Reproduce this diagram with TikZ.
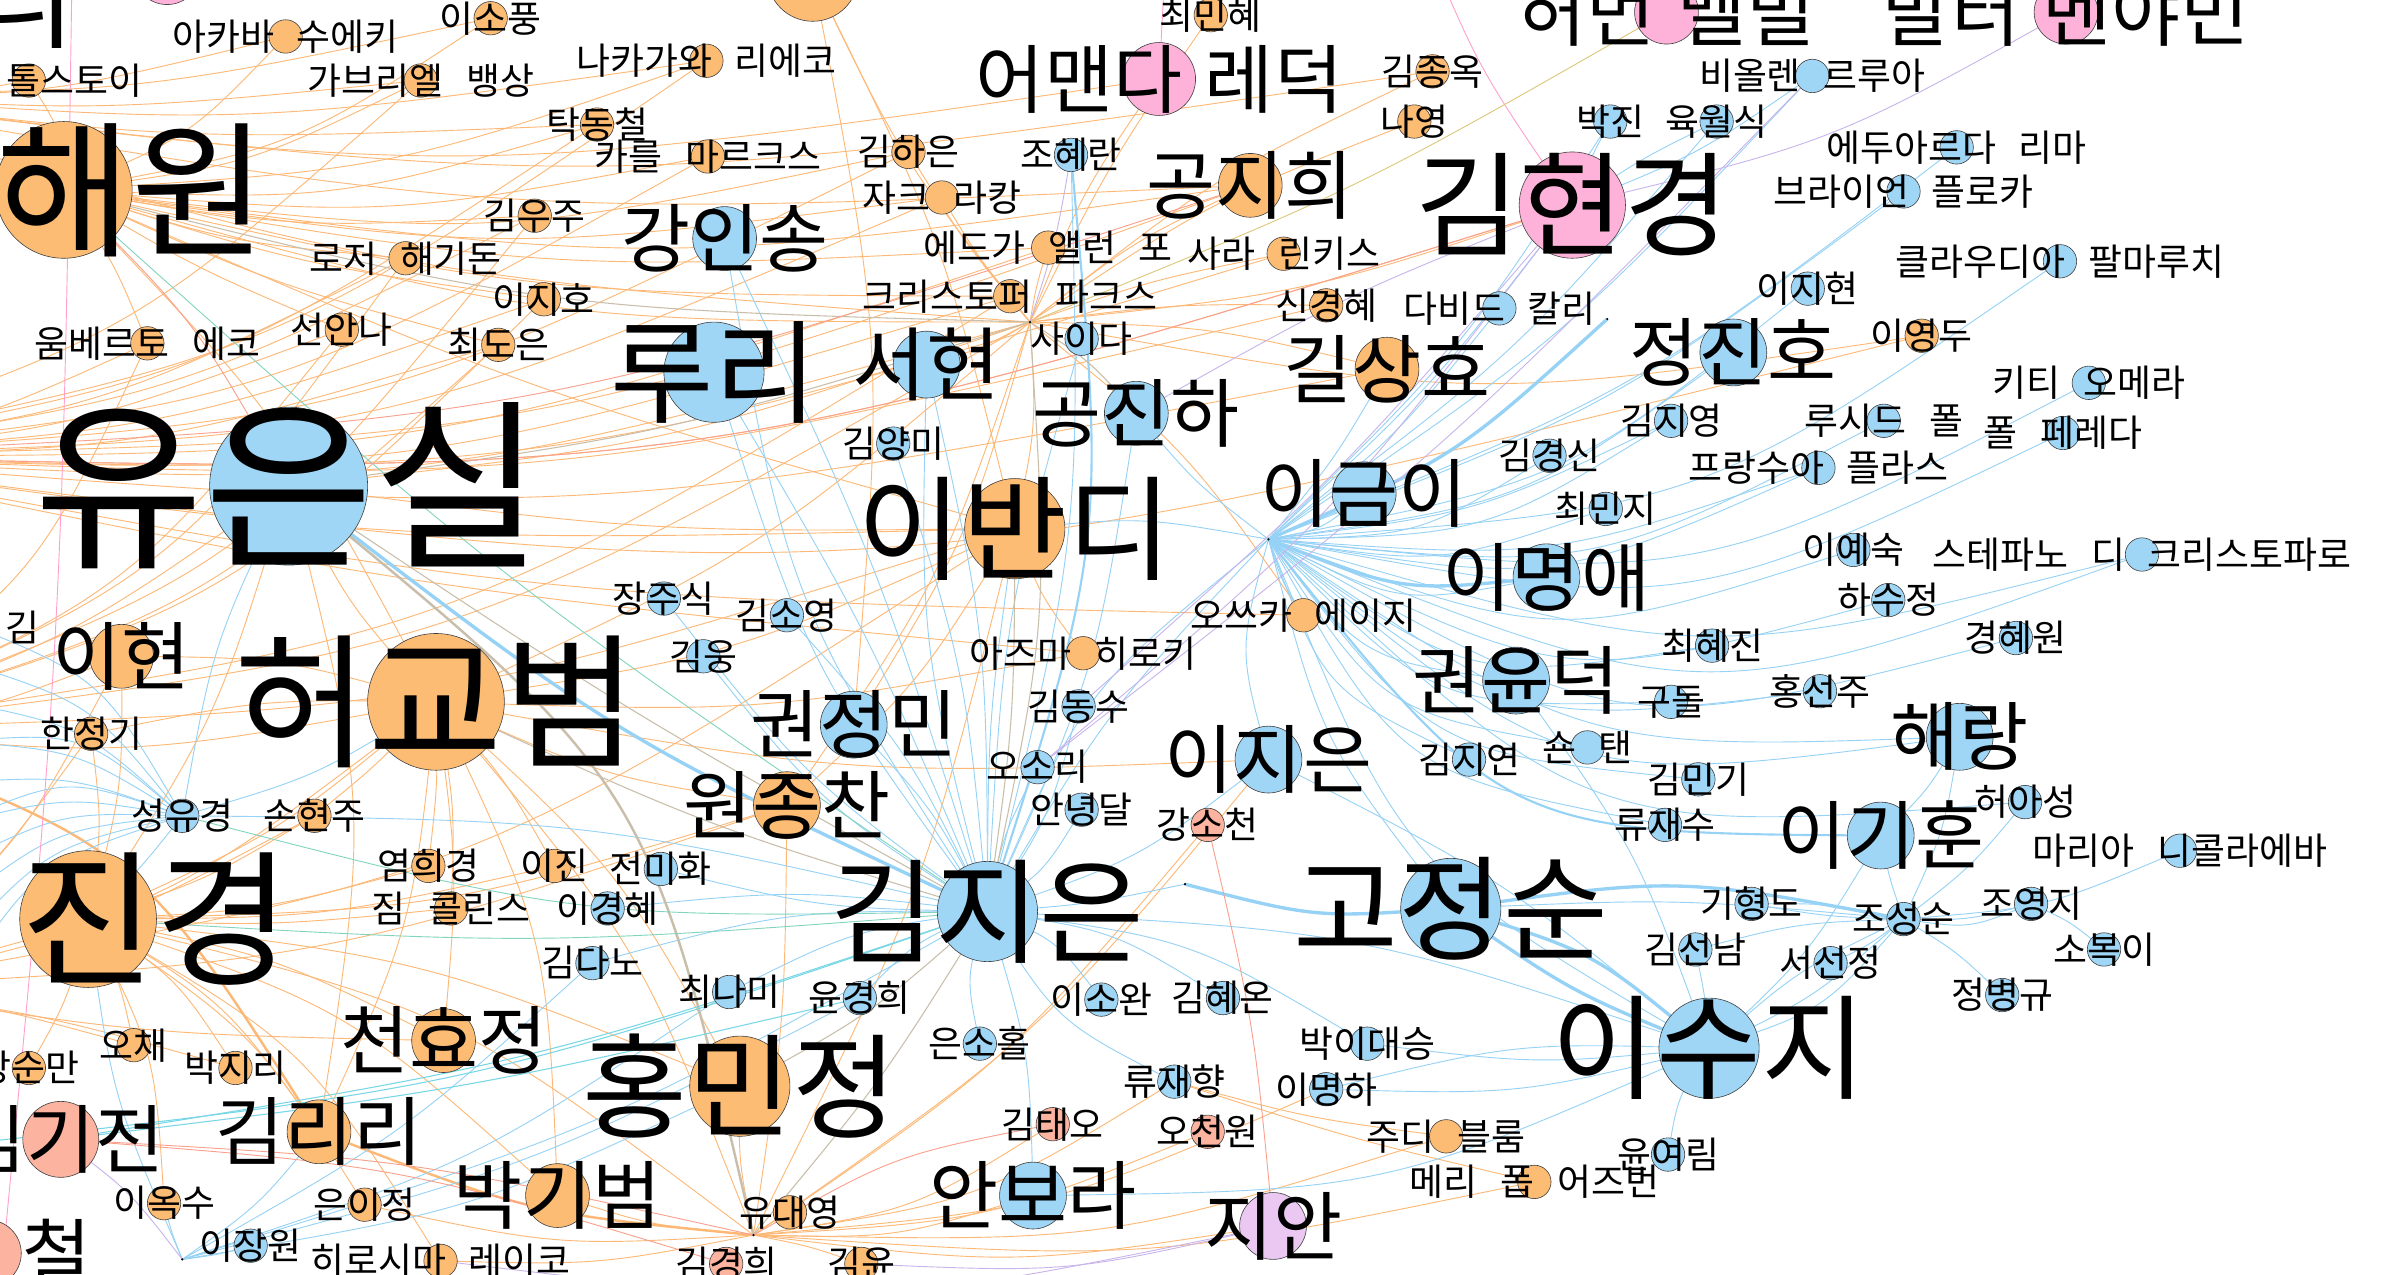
\documentclass[tikz,border=0pt]{standalone}
\usepackage{fontspec}
\setmainfont{Noto Sans CJK KR}
\usetikzlibrary{calc}
\pgfdeclarelayer{bg}\pgfdeclarelayer{edges}\pgfdeclarelayer{fg}
\pgfsetlayers{bg,edges,main,fg}
\definecolor{nOr}{RGB}{253,188,116}
\definecolor{nBl}{RGB}{160,214,245}
\definecolor{nPk}{RGB}{255,178,217}
\definecolor{nSa}{RGB}{252,180,160}
\definecolor{nLv}{RGB}{235,200,242}
\definecolor{eOr}{RGB}{253,184,118}
\definecolor{eBl}{RGB}{150,210,245}
\definecolor{eTa}{RGB}{200,190,170}
\definecolor{eTe}{RGB}{130,212,190}
\definecolor{eCy}{RGB}{120,215,230}
\definecolor{ePk}{RGB}{255,160,205}
\definecolor{eLv}{RGB}{200,180,235}
\definecolor{eSa}{RGB}{250,160,140}
\definecolor{eOl}{RGB}{220,200,120}
\tikzset{
  gcirc/.style={circle,draw=black!75,line width=0.4pt,inner sep=0pt},
  glab/.style={inner sep=0pt,text=black},
  hubdot/.style={circle,fill=black,inner sep=0pt,minimum size=1.6pt},
  eo/.style={draw=eOr,line width=0.6pt},
  eot/.style={draw=eOr,line width=1.6pt},
  eb/.style={draw=eBl,line width=0.6pt},
  ebm/.style={draw=eBl,line width=1.4pt},
  ebt/.style={draw=eBl,line width=2.2pt},
  eta/.style={draw=eTa,line width=0.7pt},
  etat/.style={draw=eTa,line width=1.6pt},
  ete/.style={draw=eTe,line width=0.6pt},
  ecy/.style={draw=eCy,line width=0.7pt},
  epk/.style={draw=ePk,line width=0.6pt},
  elv/.style={draw=eLv,line width=0.6pt},
  esa/.style={draw=eSa,line width=0.6pt},
  eol/.style={draw=eOl,line width=0.6pt}
}
\newcommand{\mkn}[7]{%
  \node[gcirc,fill=#5,minimum size={2*#4pt}] (#1) at (#2,#3) {};
  \begin{pgfonlayer}{fg}
  \node[glab,font=\fontsize{#6pt}{#6pt}\selectfont] (#1-t) at (#2,#3) {\spaceskip=15pt\relax #7};
  \end{pgfonlayer}}
% curved connector: style, from, to, bend (positive = bulge to the visual right)
\newcommand{\cedge}[4]{%
  \draw[#1] let \p1=(#2.center), \p2=(#3.center) in
    (\p1) .. controls ({0.5*\x1+0.5*\x2-(#4)*0.0068*(\y2-\y1)},{0.5*\y1+0.5*\y2+(#4)*0.0068*(\x2-\x1)}) .. (\p2);}
\begin{document}
\begin{tikzpicture}[x=1pt,y=-1pt]
\useasboundingbox (0,0) rectangle (1568,839);
\begin{pgfonlayer}{bg}
\fill[white] (0,0) rectangle (1568,839);
\end{pgfonlayer}
% partial nodes at the top edge
\mkn{pinkTop}{110}{-19}{22}{nPk}{45}{}
\mkn{orTop}{535}{-16}{30}{nOr}{65}{}
\begin{pgfonlayer}{fg}
\node[glab,font=\fontsize{75pt}{75pt}\selectfont] (topri) at (16,-2) {리};
\node[glab,font=\fontsize{24.3pt}{24.3pt}\selectfont] (kimpart) at (15,413) {김};
\end{pgfonlayer}
% nodes
\mkn{akaba}{188}{24}{11}{nOr}{24.3}{아카바 수에키}
\mkn{isop}{323}{12}{11}{nOr}{24.3}{이소풍}
\mkn{choimh}{797}{10}{11}{nOr}{24.3}{최민혜}
\mkn{amanda}{763}{52}{24}{nPk}{49.4}{어맨다 레덕}
\mkn{kimjo}{943}{47}{11}{nOr}{24.3}{김종옥}
\mkn{nayoung}{931}{80}{11}{nOr}{24.3}{나영}
\mkn{melville}{1097}{8}{21}{nPk}{49.4}{허먼 멜빌}
\mkn{benjamin}{1360}{8}{21}{nPk}{49.4}{발터 벤야민}
\mkn{tolstoy}{19}{53}{11}{nOr}{24.3}{레프 톨스토이}
\mkn{vincent}{277}{53}{11}{nOr}{24.3}{가브리엘 뱅상}
\mkn{nakagawa}{465}{40}{11}{nOr}{24.3}{나카가와 리에코}
\mkn{takdc}{393}{82}{11}{nOr}{24.3}{탁동철}
\mkn{marx}{466}{103}{11}{nOr}{24.3}{카를 마르크스}
\mkn{kimhe}{598}{100}{11}{nOr}{24.3}{김하은}
\mkn{johr}{705}{102}{11}{nBl}{24.3}{조혜란}
\mkn{lacan}{620}{130}{11}{nOr}{24.3}{자크 라캉}
\mkn{gongjh}{823}{122}{21}{nOr}{49.4}{공지희}
\mkn{kimhk}{1035}{135}{35}{nPk}{75}{김현경}
\mkn{kangis}{477}{157}{21}{nBl}{49.4}{강인송}
\mkn{violaine}{1193}{50}{11}{nBl}{24.3}{비올렌 르루아}
\mkn{parkjin}{1060}{80}{11}{nBl}{24.3}{박진}
\mkn{yukws}{1130}{80}{11}{nBl}{24.3}{육월식}
\mkn{eduarda}{1288}{97}{11}{nBl}{24.3}{에두아르다 리마}
\mkn{floca}{1253}{126}{11}{nBl}{24.3}{브라이언 플로카}
\mkn{kimwj}{352}{142}{11}{nOr}{24.3}{김우주}
\mkn{hagidon}{267}{170}{11}{nOr}{24.3}{로저 해기돈}
\mkn{poe}{690}{163}{11}{nOr}{24.3}{에드가 앨런 포}
\mkn{rinkis}{845}{167}{11}{nOr}{24.3}{사라 린키스}
\mkn{claudia}{1356}{172}{11}{nBl}{24.3}{클라우디아 팔마루치}
\mkn{leejh}{358}{197}{11}{nOr}{24.3}{이지호}
\mkn{parks}{665}{195}{11}{nOr}{24.3}{크리스토퍼 파크스}
\mkn{leejhy}{1190}{190}{11}{nBl}{24.3}{이지현}
\mkn{leeyd}{1265}{221}{11}{nOr}{24.3}{이영두}
\mkn{shinkh}{873}{201}{11}{nOr}{24.3}{신경혜}
\mkn{cali}{987}{203}{11}{nBl}{24.3}{다비드 칼리}
\mkn{eco}{97}{226}{11}{nOr}{24.3}{움베르토 에코}
\mkn{sunan}{225}{217}{11}{nOr}{24.3}{선안나}
\mkn{choide}{328}{227}{11}{nOr}{24.3}{최도은}
\mkn{ruri}{470}{245}{33}{nBl}{74}{루리}
\mkn{seohyun}{610}{240}{22}{nBl}{53}{서현}
\mkn{saida}{712}{223}{11}{nBl}{24.3}{사이다}
\mkn{gongjinha}{748}{272}{21}{nBl}{49.4}{공진하}
\mkn{gilsh}{913}{243}{21}{nOr}{49.4}{길상효}
\mkn{jungjh}{1141}{232}{22}{nBl}{49.4}{정진호}
\mkn{omera}{1375}{252}{11}{nBl}{24.3}{키티 오메라}
\mkn{kimjy}{1100}{277}{11}{nBl}{24.3}{김지영}
\mkn{lucid}{1240}{277}{11}{nBl}{24.3}{루시드 폴}
\mkn{pereda}{1358}{285}{11}{nBl}{24.3}{폴 페레다}
\mkn{kimks}{1020}{300}{11}{nBl}{24.3}{김경신}
\mkn{plasse}{1197}{308}{11}{nBl}{24.3}{프랑수아 플라스}
\mkn{kimym}{588}{292}{11}{nBl}{24.3}{김양미}
\mkn{yoones}{190}{320}{52}{nBl}{121}{유은실}
\mkn{leegi}{898}{325}{21}{nBl}{49.4}{이금이}
\mkn{choimj}{1057}{335}{11}{nBl}{24.3}{최민지}
\mkn{leebd}{668}{348}{33}{nOr}{75}{이반디}
\mkn{leeys}{1220}{362}{11}{nBl}{24.3}{이예숙}
\mkn{stefano}{1410}{365}{11}{nBl}{24.3}{스테파노 디 크리스토파로}
\mkn{leema}{1018}{380}{22}{nBl}{49.4}{이명애}
\mkn{jangjs}{437}{394}{11}{nBl}{24.3}{장주식}
\mkn{kimsy}{518}{405}{11}{nBl}{24.3}{김소영}
\mkn{hasj}{1243}{395}{11}{nBl}{24.3}{하수정}
\mkn{otsuka}{858}{405}{11}{nOr}{24.3}{오쓰카 에이지}
\mkn{leehyun}{80}{432}{21}{nOr}{49.4}{이현}
\mkn{heokb}{287}{462}{45}{nOr}{96}{허교범}
\mkn{kimwoong}{463}{432}{11}{nBl}{24.3}{김웅}
\mkn{azuma}{713}{430}{11}{nOr}{24.3}{아즈마 히로키}
\mkn{kyunghw}{1327}{420}{11}{nBl}{24.3}{경혜원}
\mkn{choihj}{1127}{425}{11}{nBl}{24.3}{최혜진}
\mkn{kwonyd}{998}{448}{22}{nBl}{49.4}{권윤덕}
\mkn{gudol}{1100}{462}{11}{nBl}{24.3}{구돌}
\mkn{hongsj}{1198}{455}{11}{nBl}{24.3}{홍선주}
\mkn{kwonjm}{562}{477}{22}{nBl}{49.4}{권정민}
\mkn{kimds}{710}{465}{11}{nBl}{24.3}{김동수}
\mkn{hanjk}{60}{483}{11}{nOr}{24.3}{한정기}
\mkn{haerang}{1290}{485}{22}{nBl}{49.4}{해랑}
\mkn{leeje}{835}{500}{22}{nBl}{49.4}{이지은}
\mkn{osori}{683}{505}{11}{nBl}{24.3}{오소리}
\mkn{tan}{1045}{492}{11}{nBl}{24.3}{숀 탠}
\mkn{kimjyn}{967}{500}{11}{nBl}{24.3}{김지연}
\mkn{kimmk}{1118}{513}{11}{nBl}{24.3}{김민기}
\mkn{heoas}{1333}{528}{11}{nBl}{24.3}{허아성}
\mkn{wonjc}{518}{530}{22}{nOr}{49.4}{원종찬}
\mkn{sungyk}{120}{537}{11}{nBl}{24.3}{성유경}
\mkn{sonhj}{207}{537}{11}{nOr}{24.3}{손현주}
\mkn{annd}{712}{533}{11}{nBl}{24.3}{안녕달}
\mkn{kangsc}{795}{543}{11}{nSa}{24.3}{강소천}
\mkn{ryujs}{1096}{543}{11}{nBl}{24.3}{류재수}
\mkn{leegh}{1238}{550}{22}{nBl}{49.4}{이기훈}
\mkn{nikolajeva}{1435}{560}{11}{nBl}{24.3}{마리아 니콜라에바}
\mkn{kimjie}{650}{600}{33}{nBl}{75}{김지은}
\mkn{kojs}{955}{598}{33}{nBl}{75}{고정순}
\mkn{jingk}{58}{605}{45}{nOr}{97}{\phantom{가}진경}
\mkn{hae}{42}{125}{45}{nOr}{97}{\phantom{가}해원}
\mkn{yumhk}{282}{570}{11}{nOr}{24.3}{염희경}
\mkn{leejin}{365}{570}{11}{nOr}{24.3}{이진}
\mkn{jeonmh}{435}{572}{11}{nBl}{24.3}{전미화}
\mkn{collins}{297}{598}{11}{nOr}{24.3}{짐 콜린스}
\mkn{leekh}{400}{598}{11}{nBl}{24.3}{이경혜}
\mkn{kihd}{1153}{595}{11}{nBl}{24.3}{기형도}
\mkn{josungsoon}{1253}{605}{11}{nBl}{24.3}{조성순}
\mkn{joyj}{1337}{595}{11}{nBl}{24.3}{조영지}
\mkn{kimsn}{1116}{625}{11}{nBl}{24.3}{김선남}
\mkn{seosj}{1205}{634}{11}{nBl}{24.3}{서선정}
\mkn{sobok}{1385}{625}{11}{nBl}{24.3}{소복이}
\mkn{kimdn}{390}{634}{11}{nBl}{24.3}{김다노}
\mkn{choinm}{480}{653}{11}{nBl}{24.3}{최나미}
\mkn{yoonkh}{566}{657}{11}{nBl}{24.3}{윤경희}
\mkn{leeso}{725}{658}{11}{nBl}{24.3}{이소완}
\mkn{kimho}{805}{657}{11}{nBl}{24.3}{김혜온}
\mkn{jungbk}{1318}{655}{11}{nBl}{24.3}{정병규}
\mkn{ochae}{88}{688}{11}{nOr}{24.3}{오채}
\mkn{parkjr}{155}{703}{11}{nOr}{24.3}{박지리}
\mkn{cheonhj}{292}{685}{21}{nOr}{49.4}{천효정}
\mkn{eunsh}{645}{687}{11}{nBl}{24.3}{은소홀}
\mkn{parkids}{900}{687}{11}{nBl}{24.3}{박이대승}
\mkn{leesj}{1125}{690}{33}{nBl}{75}{이수지}
\mkn{kangsm}{19}{703}{11}{nOr}{24.3}{강순만}
\mkn{hongmj}{487}{715}{33}{nOr}{75}{홍민정}
\mkn{ryujh}{773}{712}{11}{nBl}{24.3}{류재향}
\mkn{leemh}{873}{717}{11}{nBl}{24.3}{이명하}
\mkn{kimkj}{40}{750}{25}{nSa}{49.4}{김기전}
\mkn{kimrr}{210}{745}{21}{nOr}{49.4}{김리리}
\mkn{kimto}{693}{740}{11}{nSa}{24.3}{김태오}
\mkn{ohcw}{795}{745}{11}{nSa}{24.3}{오천원}
\mkn{blume}{952}{748}{11}{nOr}{24.3}{주디 블룸}
\mkn{yooyr}{1098}{760}{11}{nBl}{24.3}{윤여림}
\mkn{osborne}{1010}{778}{11}{nOr}{24.3}{메리 폽 어즈번}
\mkn{parkkb}{367}{787}{21}{nOr}{49.4}{박기범}
\mkn{leeos}{108}{792}{11}{nOr}{24.3}{이옥수}
\mkn{euniej}{240}{793}{11}{nOr}{24.3}{은이정}
\mkn{yoodaeyoung}{520}{798}{11}{nOr}{24.3}{유대영}
\mkn{anbora}{680}{787}{22}{nBl}{49.4}{안보라}
\mkn{jian}{838}{807}{22}{nLv}{49.4}{지안}
\mkn{chul}{-8}{825}{22}{nSa}{49.4}{\phantom{가가}철}
\mkn{leejw}{165}{820}{11}{nBl}{24.3}{이장원}
\mkn{hiroshima}{290}{830}{11}{nOr}{24.3}{히로시마 레이코}
\mkn{kimkh}{478}{832}{11}{nSa}{24.3}{김경희}
\mkn{kimyoon}{567}{832}{11}{nOr}{24.3}{김윤}
% hubs where edges meet
\node[hubdot] (HO) at (678,212) {};
\node[hubdot] (HB) at (835,355) {};
\node[hubdot] (HO2) at (496,813) {};
\node[hubdot] (HB3) at (120,829) {};
\node[hubdot] (D2) at (1058,210) {};
\node[hubdot] (D3) at (780,582) {};
% free ends outside the frame
\coordinate (L1) at (-150,60);
\coordinate (L2) at (-150,300);
\coordinate (L3) at (-120,480);
\coordinate (L4) at (-100,650);
\coordinate (L5) at (-40,755);
\coordinate (PT1) at (48,-60);
\coordinate (PB) at (-5,900);
\coordinate (PT2) at (930,-60);
\coordinate (PT3) at (770,-80);
\foreach \i in {1,...,10} {\coordinate (F\i) at (-30,{380+27*\i});}
\begin{pgfonlayer}{edges}
\foreach \pA/\pB/\pC in {
hae/akaba/-15,hae/vincent/-12,hae/nakagawa/-10,hae/takdc/-12,hae/marx/-10,hae/kimwj/-8,hae/hagidon/-8,hae/leejh/-6,hae/sunan/-5,hae/choide/-6,hae/eco/8,hae/isop/-15,hae/HO/-10,hae/gongjh/-10,hae/kimhe/-12,hae/lacan/-10,hae/poe/-8,hae/parks/-8,hae/leebd/-5,hae/heokb/10,hae/tolstoy/-20,
L1/akaba/-10,L1/isop/-8,L1/nakagawa/-8,L1/vincent/-6,L1/takdc/-6,L1/HO/-8,L1/amanda/-10,L1/kimjo/-10,L1/gongjh/-8,L1/tolstoy/-10,
L2/vincent/-15,L2/nakagawa/-15,L2/takdc/-15,L2/marx/-15,L2/kimwj/-12,L2/hagidon/-12,L2/leejh/-10,L2/sunan/-10,L2/choide/-10,L2/HO/-12,L2/kimhe/-15,L2/lacan/-14,L2/poe/-12,L2/parks/-12,L2/gongjh/-12,L2/rinkis/-12,L2/shinkh/-10,L2/gilsh/-10,L2/leeyd/-14,L2/kimhk/-12,L2/leebd/-6,L2/azuma/-4,L2/otsuka/-6,L2/eco/-10,
L3/eco/-20,L3/hagidon/-20,L3/kimwj/-20,L3/leejh/-18,L3/choide/-16,L3/HO/-15,L3/parks/-15,L3/heokb/-10,L3/leehyun/-10,L3/yoones/-10,L3/leebd/-10,L3/sunan/-18,
L4/heokb/-15,L4/hanjk/-10,L4/leehyun/-15,L4/sonhj/-10,L4/wonjc/-10,L4/leebd/-15,L4/cheonhj/-5,L4/ochae/5,L4/parkjr/5,
jingk/heokb/-10,jingk/cheonhj/10,jingk/parkjr/15,jingk/ochae/10,jingk/kimrr/15,jingk/leehyun/-10,jingk/hanjk/-10,jingk/yumhk/-8,jingk/collins/-5,jingk/sonhj/-8,jingk/leejin/-8,jingk/wonjc/-10,jingk/hongmj/10,jingk/parkkb/15,jingk/leeos/15,jingk/euniej/15,jingk/hiroshima/18,jingk/HO2/15,jingk/kangsm/10,jingk/yoones/-10,
heokb/leehyun/-10,heokb/yoones/10,heokb/wonjc/-10,heokb/cheonhj/8,heokb/yumhk/5,heokb/leejin/8,heokb/hongmj/12,heokb/parkkb/15,heokb/leebd/-10,heokb/HO/-10,heokb/collins/8,heokb/sonhj/5,heokb/hanjk/-8,heokb/kimrr/12,heokb/HO2/12,heokb/azuma/-8,heokb/leeje/-8,
yoones/HO/-8,yoones/leebd/-5,yoones/kimrr/15,
HO/kimhe/5,HO/lacan/5,HO/poe/5,HO/parks/5,HO/amanda/8,HO/gongjh/8,HO/rinkis/5,HO/kimjo/8,HO/nayoung/8,HO/shinkh/5,HO/gilsh/8,HO/choimh/5,HO/leebd/10,HO/wonjc/10,HO/orTop/8,HO/leeyd/-12,HO/kimhk/-8,HO/otsuka/10,HO/seohyun/8,HO/kwonjm/10,
orTop/leebd/8,orTop/kwonjm/10,leebd/wonjc/10,leebd/azuma/-10,
HO2/anbora/-12,HO2/jian/-10,HO2/blume/-12,HO2/osborne/-10,HO2/ryujh/-15,HO2/leemh/-12,HO2/hongmj/8,HO2/yoodaeyoung/5,HO2/kimyoon/5,HO2/hiroshima/8,HO2/parkkb/8,HO2/euniej/10,HO2/leebd/-8,HO2/wonjc/-5,HO2/kimto/-15,HO2/ohcw/-12,HO2/kangsc/-10,HO2/leeje/-10,ryujh/blume/-5,ryujh/osborne/-3}
  {\cedge{eo}{\pA}{\pB}{\pC}}
\foreach \pA/\pB/\pC in {L3/kimrr/25,kimrr/HO2/-10}
  {\cedge{eot}{\pA}{\pB}{\pC}}
\foreach \pA/\pB/\pC in {
HB/leegi/-20,HB/kimks/-20,HB/kimjy/-20,HB/kimjy/-12,HB/plasse/-22,HB/plasse/-15,HB/choimj/-18,HB/omera/-22,HB/lucid/-22,HB/pereda/-24,HB/leeys/-25,HB/stefano/-28,HB/stefano/-20,HB/hasj/-28,HB/kyunghw/-30,HB/choihj/-30,HB/hongsj/-30,HB/gudol/-32,HB/haerang/-32,HB/haerang/-24,HB/kwonyd/-30,HB/kimmk/-32,HB/ryujs/-34,HB/tan/-32,HB/kimjyn/-30,HB/heoas/-32,HB/claudia/-20,HB/leejhy/-18,HB/jungjh/-18,HB/eduarda/-10,HB/floca/-10,HB/violaine/-8,HB/parkjin/-8,HB/yukws/-8,HB/cali/-8,HB/kimhk/-6,HB/gilsh/-6,HB/leeje/-20,HB/otsuka/-10,HB/kimjie/-8,HB/kimjie/-18,HB/leebd/-10,HB/gongjinha/8,HB/kojs/-15,HB/leesj/-25,HB/leema/-25,
kimjie/ruri/12,kimjie/ruri/-5,kimjie/seohyun/-8,kimjie/seohyun/10,kimjie/kangis/15,kimjie/kangis/-5,kimjie/kimym/-8,kimjie/leebd/5,kimjie/jangjs/10,kimjie/kimsy/-10,kimjie/kimwoong/12,kimjie/kwonjm/-10,kimjie/saida/8,kimjie/gongjinha/-10,kimjie/kimds/-12,kimjie/osori/10,kimjie/annd/-15,kimjie/leeso/20,kimjie/eunsh/-20,kimjie/yoonkh/-15,kimjie/choinm/-12,kimjie/kimdn/-10,kimjie/leekh/-8,kimjie/jeonmh/8,kimjie/sungyk/-8,kimjie/kimho/15,kimjie/ryujh/-20,kimjie/leesj/10,kimjie/leeje/-12,kimjie/D3/-5,kimjie/parkids/15,kimjie/johr/-10,
sungyk/F1/-25,sungyk/F2/-22,sungyk/F3/-20,sungyk/F4/-18,sungyk/F5/-15,sungyk/F6/-15,sungyk/F7/-18,sungyk/F8/-20,sungyk/F9/-22,sungyk/F10/-25,sungyk/F4/-30,sungyk/F6/-28,sungyk/yoones/10,sungyk/heokb/-10,sungyk/jingk/5,
HB3/jingk/10,HB3/kimrr/-10,HB3/leejw/-5,HB3/kimjie/-8,HB3/hongmj/-10,HB3/choinm/-10,HB3/yoonkh/-8,HB3/leeos/5,HB3/kimdn/-8,
josungsoon/leegh/5,josungsoon/kihd/-8,josungsoon/kihd/5,josungsoon/joyj/-10,josungsoon/joyj/-20,josungsoon/jungbk/8,josungsoon/seosj/8,josungsoon/kimsn/-8,josungsoon/leesj/10,josungsoon/leesj/-10,josungsoon/leesj/20,josungsoon/kojs/-5,josungsoon/nikolajeva/-12,josungsoon/haerang/-10,josungsoon/heoas/-8,joyj/sobok/10,
leesj/yooyr/-15,leesj/leemh/10,leesj/kwonyd/-10,leesj/leeje/-8,leesj/leegh/-10,leesj/kimsn/-5,leesj/parkids/8,
leegh/haerang/-10,kimhk/parkjin/5,kimhk/yukws/5,kimhk/violaine/-8,anbora/kimjie/-10,anbora/leesj/-15,leemh/leesj/10}
  {\cedge{eb}{\pA}{\pB}{\pC}}
\foreach \pA/\pB/\pC in {johr/kimjie/15,HB/leegh/-35}
  {\cedge{ebm}{\pA}{\pB}{\pC}}
\foreach \pA/\pB/\pC in {yoones/kimjie/-8,D3/kojs/-12,kojs/leesj/15,kojs/leesj/-8,kojs/josungsoon/12,HB/leema/-18,D2/HB/12}
  {\cedge{ebt}{\pA}{\pB}{\pC}}
\foreach \pA/\pB/\pC in {hae/HO/-8,yoones/HO/-6,HO/kimjie/10,leebd/kimjie/5,yoones/kimjie/-3,heokb/kimjie/-5,HO2/kimjie/-5,hongmj/kimjie/-8,HO/gongjinha/10}
  {\cedge{eta}{\pA}{\pB}{\pC}}
\cedge{etat}{yoones}{HO2}{25}
\foreach \pA/\pB/\pC in {hae/kimjie/-5,jingk/kimjie/-5,sungyk/kimjie/-10}
  {\cedge{ete}{\pA}{\pB}{\pC}}
\foreach \pA/\pB/\pC in {kimkj/kimjie/-6,kimkj/yoonkh/-4,L5/kimjie/-8}
  {\cedge{ecy}{\pA}{\pB}{\pC}}
\foreach \pA/\pB/\pC in {PT1/PB/3,kimhk/PT2/8,amanda/PT3/0}
  {\cedge{epk}{\pA}{\pB}{\pC}}
\foreach \pA/\pB/\pC in {kimhk/benjamin/-10,kimhk/kimds/5,kimhk/osori/8,johr/HO/5,violaine/osori/5,kimkj/HB3/10,jian/kimyoon/10,jian/hiroshima/12,kimhk/gongjinha/-5}
  {\cedge{elv}{\pA}{\pB}{\pC}}
\foreach \pA/\pB/\pC in {L2/gongjh/-10,L2/kimhk/-12,kimkj/kimkh/8,kimkj/HO2/6,kangsc/jian/5,kimto/HO2/-12,hae/yoones/10}
  {\cedge{esa}{\pA}{\pB}{\pC}}
\cedge{eol}{HO}{melville}{-5}
\end{pgfonlayer}
\end{tikzpicture}
\end{document}
